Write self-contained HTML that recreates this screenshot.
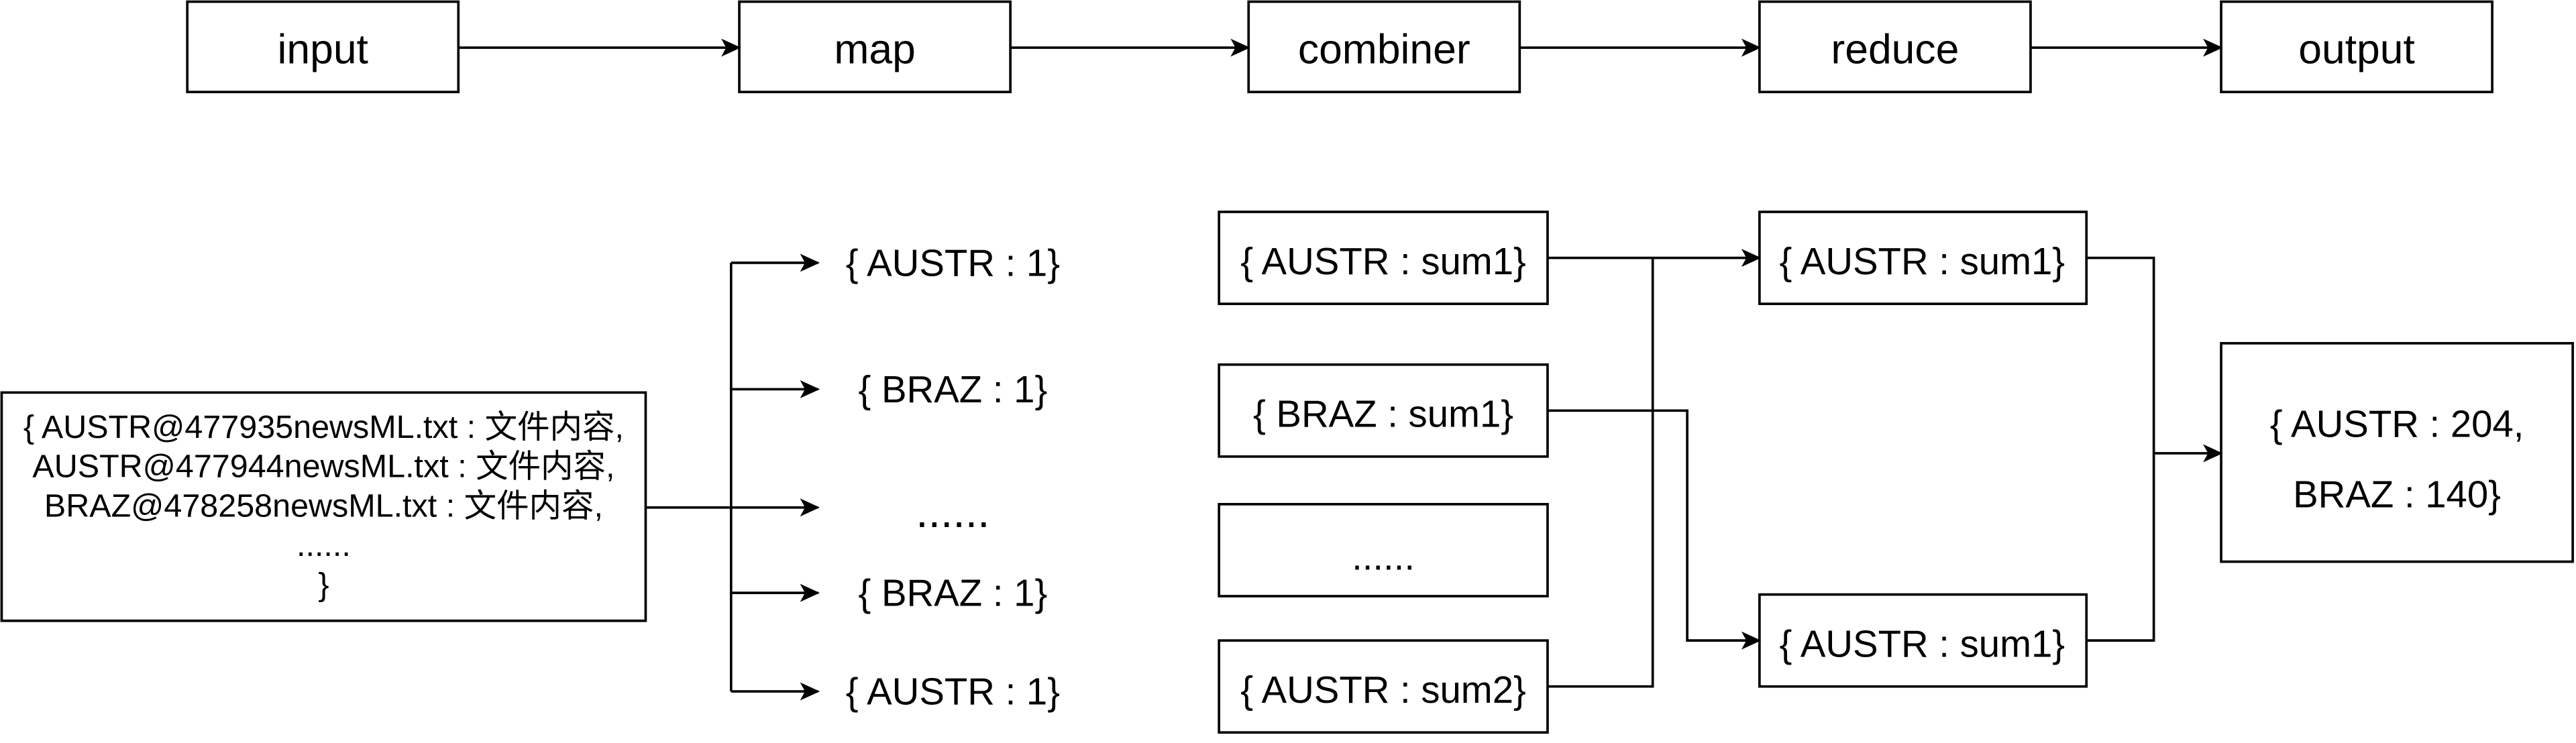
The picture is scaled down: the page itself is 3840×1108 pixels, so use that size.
<!DOCTYPE html>
<html><head><meta charset="utf-8"><style>html,body{margin:0;padding:0;background:#fff}svg{display:block}</style></head>
<body>
<svg width="3840" height="1108" viewBox="0 0 1568 452.4" xmlns="http://www.w3.org/2000/svg" font-family="Liberation Sans, Noto Sans CJK SC, sans-serif">
<defs><marker id="a" markerWidth="12" markerHeight="12" refX="11" refY="6" orient="auto" markerUnits="userSpaceOnUse"><path d="M0,0.5 L12,6 L0,11.5 L3,6 Z" fill="#000"/></marker></defs>
<g fill="#fff" stroke="#000" stroke-width="1.5">
<rect x="114" y="1" width="165" height="55"/><rect x="450" y="1" width="165" height="55"/><rect x="760" y="1" width="165" height="55"/><rect x="1071" y="1" width="165" height="55"/><rect x="1352" y="1" width="165" height="55"/>
<rect x="1" y="239" width="392" height="139"/>
<rect x="742" y="129" width="200" height="56"/><rect x="742" y="222" width="200" height="56"/><rect x="742" y="307" width="200" height="56"/><rect x="742" y="390" width="200" height="56"/>
<rect x="1071" y="129" width="199" height="56"/><rect x="1071" y="362" width="199" height="56"/>
<rect x="1352" y="209" width="214" height="133"/>
</g>
<g fill="none" stroke="#000" stroke-width="1.5">
<path d="M279,29H450" marker-end="url(#a)"/><path d="M615,29H760" marker-end="url(#a)"/><path d="M925,29H1071" marker-end="url(#a)"/><path d="M1236,29H1352" marker-end="url(#a)"/>
<path d="M393,309H445"/><path d="M445,160V421"/>
<path d="M445,160H498" marker-end="url(#a)"/><path d="M445,237H498" marker-end="url(#a)"/><path d="M445,309H498" marker-end="url(#a)"/><path d="M445,361H498" marker-end="url(#a)"/><path d="M445,421H498" marker-end="url(#a)"/>
<path d="M942,157H1071" marker-end="url(#a)"/><path d="M942,418H1006V157"/>
<path d="M942,250H1027V390H1071" marker-end="url(#a)"/>
<path d="M1270,157H1311V390H1270"/><path d="M1311,276H1352" marker-end="url(#a)"/>
</g>
<g font-size="25.5" text-anchor="middle" dominant-baseline="central">
<text x="196.5" y="30">input</text><text x="532.5" y="30">map</text><text x="842.5" y="30">combiner</text><text x="1153.5" y="30">reduce</text><text x="1434.5" y="30">output</text>
</g>
<g font-size="23" text-anchor="middle" dominant-baseline="central">
<text x="580" y="160">{ AUSTR : 1}</text><text x="580" y="237">{ BRAZ : 1}</text><text x="580" y="312" font-size="27">......</text><text x="580" y="361">{ BRAZ : 1}</text><text x="580" y="421">{ AUSTR : 1}</text>
<text x="842" y="159">{ AUSTR : sum1}</text><text x="842" y="252">{ BRAZ : sum1}</text><text x="842" y="339">......</text><text x="842" y="420">{ AUSTR : sum2}</text>
<text x="1170" y="159">{ AUSTR : sum1}</text><text x="1170" y="392">{ AUSTR : sum1}</text>
<text x="1459" y="258">{ AUSTR : 204,</text><text x="1459" y="301">BRAZ : 140}</text>
</g>
<g font-size="19.8" text-anchor="middle" dominant-baseline="central">
<text x="197" y="260">{ AUSTR@477935newsML.txt : 文件内容,</text>
<text x="197" y="284">AUSTR@477944newsML.txt : 文件内容,</text>
<text x="197" y="308">BRAZ@478258newsML.txt : 文件内容,</text>
<text x="197" y="332">......</text>
<text x="197" y="356">}</text>
</g>
</svg>
</body></html>
